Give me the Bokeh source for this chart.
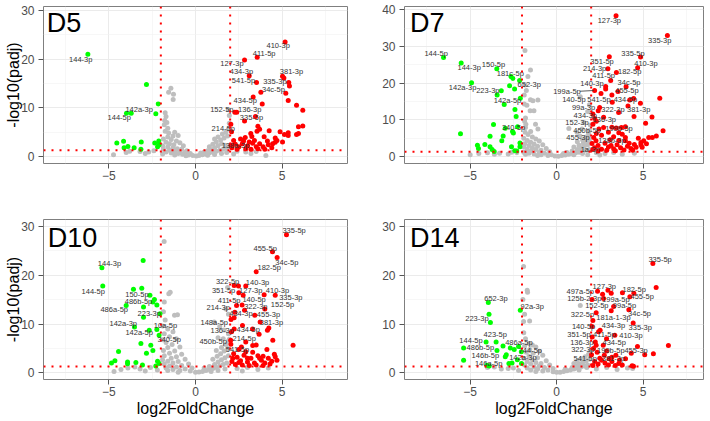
from bokeh.plotting import figure
from bokeh.layouts import column, row
from bokeh.models import Range1d, Span, FixedTicker
from bokeh.core.properties import value
from bokeh.embed import file_html
from bokeh.resources import INLINE

FONT = "Liberation Sans"
FC_CUT = 2.0
P_CUT = 1.30103
RED = "#FF0000"
GREEN = "#00FF00"
GREY = "#BEBEBE"

x_ticks = [-5, 0, 5]
x_minor = [-7.5, -2.5, 2.5, 7.5]
y_ticks_30 = [0, 10, 20, 30]
y_minor_30 = [5, 15, 25]
y_ticks_40 = [0, 10, 20, 30, 40]
y_minor_40 = [5, 15, 25, 35]

# ---------------- D5 ----------------
d5_points = [
    (-6.21, 21.0), (-2.83, 14.8), (-2.15, 10.8), (-3.98, 8.9), (-3.71, 8.9), (-2.29, 8.8),
    (-4.54, 2.75), (-4.15, 3.15), (-4.12, 1.8), (-3.9, 2.05), (-3.54, 1.8), (-3.13, 2.95),
    (-2.35, 2.75), (-2.12, 3.2), (-2.19, 2.0), (-2.1, 2.4), (-3.15, 1.5),
    (-4.73, 0.35), (-3.8, 1.1), (-3.2, 1.0), (-2.7, 0.9), (-2.4, 1.2), (-2.9, 0.6), (-4.0, 0.8),
    (-1.42, 14.0), (-1.27, 12.8), (-1.29, 11.7), (-1.55, 13.2),
    (-1.75, 9.0), (-1.7, 8.2), (-1.78, 7.4), (-1.65, 7.0), (-1.8, 6.5), (-1.6, 5.8), (-1.75, 5.2),
    (-1.55, 4.8), (-1.3, 4.2), (-1.2, 5.0), (-1.0, 4.3), (-1.6, 4.0), (-1.85, 3.6), (-1.4, 3.5),
    (-1.1, 3.2), (-0.9, 2.8), (-1.7, 2.9), (-1.5, 2.6), (-1.25, 2.4), (-0.7, 2.2), (-1.9, 2.2),
    (-1.6, 2.0), (-1.3, 1.8), (-1.05, 1.6), (-0.8, 1.5), (-0.5, 1.2), (-1.85, 1.5), (-1.5, 1.3),
    (-1.2, 1.1), (-0.9, 1.0), (-0.6, 0.8), (-0.3, 0.6), (-1.7, 0.9), (-1.4, 0.7), (-1.0, 0.6),
    (-0.75, 0.45), (-0.4, 0.3), (-0.15, 0.2), (-1.9, 0.5), (-1.2, 0.3), (-0.55, 0.15), (0.05, 0.1),
    (0.2, 0.2), (0.4, 0.35), (0.6, 0.5), (0.8, 0.7), (1.0, 0.9), (1.2, 1.1), (1.4, 1.3), (1.6, 1.5),
    (1.8, 1.7), (0.5, 0.9), (0.9, 1.4), (1.1, 1.8), (1.3, 2.2), (1.5, 2.6), (1.7, 2.3), (1.9, 2.0),
    (1.0, 2.5), (1.2, 3.0), (1.45, 3.4), (1.65, 3.8), (1.85, 4.2), (1.3, 4.0), (1.55, 4.6),
    (1.75, 5.0), (1.9, 5.6), (1.95, 6.8), (1.95, 8.4), (1.9, 9.6), (1.1, 3.6), (0.8, 2.0),
    (0.3, 0.7), (0.7, 1.2), (1.8, 0.8), (1.5, 0.6), (1.1, 0.4), (0.7, 0.25),
    (2.4, 1.1), (2.9, 0.9), (3.5, 1.0), (4.06, 0.2), (3.2, 0.6), (2.2, 0.5),
    (5.17, 23.5), (3.56, 20.4), (2.83, 19.8), (3.1, 16.6), (3.52, 15.2), (5.02, 16.5), (5.1, 16.1),
    (5.38, 15.2), (5.42, 14.5), (5.21, 13.0), (3.77, 13.2), (3.33, 12.2), (3.85, 10.8), (5.35, 11.5),
    (5.83, 10.5), (6.19, 9.5), (2.27, 9.06), (2.38, 9.06), (3.46, 8.2), (2.83, 7.3), (2.04, 6.6),
    (2.08, 5.1), (3.6, 6.2), (3.7, 5.6), (3.55, 5.2), (4.25, 5.3), (4.88, 5.1), (5.94, 6.1),
    (6.19, 6.25), (5.94, 4.7), (5.83, 4.5), (5.35, 4.9), (5.35, 4.3), (5.13, 4.5), (4.6, 3.8),
    (4.7, 3.3), (4.6, 2.9), (5.02, 3.0), (3.19, 4.7), (3.25, 4.1), (2.87, 3.9), (2.77, 3.2),
    (3.96, 4.05), (4.15, 3.2), (2.3, 2.5), (2.5, 2.0), (2.7, 2.6), (3.0, 2.2), (3.3, 2.7),
    (3.5, 2.0), (3.7, 2.6), (3.9, 2.0), (4.2, 2.4), (4.4, 1.8), (2.1, 1.8), (2.4, 1.5), (2.9, 1.6),
    (3.2, 1.5), (3.6, 1.6), (4.0, 1.5), (2.2, 3.3), (2.6, 3.6), (3.4, 3.3), (4.45, 2.6), (2.05, 2.3),
    (3.1, 3.0),
]
d5_labels = [
    ("410-3p", 4.77, 22.7), ("411-5p", 3.96, 21.1), ("144-3p", -6.62, 20.0), ("127-3p", 2.1, 19.0),
    ("434-3p", 2.65, 17.4), ("381-3p", 5.54, 17.4), ("541-5p", 2.77, 15.6), ("335-3p", 4.58, 15.4),
    ("34c-5p", 4.5, 13.8), ("434-5p", 2.87, 11.5), ("142a-3p", -3.25, 9.75), ("152-5p", 1.52, 9.75),
    ("136-3p", 3.13, 9.75), ("144-5p", -4.4, 8.0), ("335-5p", 3.23, 8.0), ("214-5p", 1.6, 5.7),
    ("138a-3p", 2.31, 2.2),
]

# ---------------- D7 ----------------
d7_points = [
    (-6.54, 27.0), (-5.52, 25.5), (-3.46, 23.9), (-2.64, 21.8), (-2.53, 21.3), (-2.14, 20.7),
    (-4.92, 20.1), (-2.72, 19.3), (-3.2, 17.9), (-3.44, 16.8), (-2.43, 18.4), (-2.1, 15.9),
    (-3.03, 14.2), (-2.41, 12.8), (-2.34, 10.9), (-3.65, 8.75), (-2.26, 8.1), (-2.97, 7.7),
    (-2.55, 6.8), (-2.5, 6.4), (-5.56, 6.2), (-3.85, 5.5), (-3.09, 5.6), (-3.17, 4.3), (-4.15, 3.3),
    (-4.58, 3.1), (-4.52, 2.2), (-3.85, 2.7), (-3.73, 1.9), (-3.61, 1.4), (-2.61, 2.7), (-2.12, 3.7),
    (-2.12, 2.7), (-2.3, 1.5), (-2.42, 1.55),
    (-5.0, 0.5), (-4.0, 1.0), (-3.3, 0.9), (-2.8, 0.7), (-2.3, 1.0), (-3.6, 0.6), (-4.5, 0.8), (-2.6, 1.2),
    (-1.83, 28.9), (-1.51, 23.6), (-1.66, 21.8), (-1.83, 19.5), (-1.75, 18.0), (-1.87, 16.8),
    (-1.51, 15.5), (-1.37, 15.2), (-1.08, 15.4), (-1.87, 14.3), (-1.72, 14.0), (-1.53, 12.5),
    (-1.31, 12.5), (-1.8, 10.5), (-1.85, 9.6), (-1.78, 8.8), (-1.22, 8.8), (-1.08, 7.5), (-1.8, 7.9),
    (-1.82, 6.6), (-1.5, 6.8), (-1.65, 6.0), (-1.4, 5.3), (-1.9, 5.0), (-1.2, 4.8), (-1.7, 4.4),
    (-1.0, 4.2), (-1.5, 3.9), (-1.85, 3.5), (-1.3, 3.4), (-0.8, 3.2), (-1.6, 3.0), (-1.1, 2.8),
    (-1.9, 2.6), (-1.4, 2.4), (-0.6, 2.2), (-1.7, 2.0), (-1.2, 1.9), (-0.9, 1.7), (-1.5, 1.5),
    (-0.4, 1.3), (-1.9, 1.2), (-1.0, 1.1), (-0.7, 0.9), (-1.6, 0.9), (-1.3, 0.7), (-0.3, 0.5),
    (-0.9, 0.5), (-1.8, 0.6), (-0.5, 0.3), (-0.1, 0.15), (-1.1, 0.3),
    (0.1, 0.1), (0.3, 0.25), (0.5, 0.4), (0.7, 0.6), (0.9, 0.8), (1.1, 1.0), (1.3, 1.2), (1.5, 1.4),
    (1.7, 1.7), (1.9, 1.9), (0.6, 1.1), (0.9, 1.5), (1.2, 1.9), (1.4, 2.4), (1.6, 2.8), (1.8, 3.2),
    (1.95, 3.8), (1.0, 2.6), (1.3, 3.1), (1.55, 3.6), (1.75, 4.3), (1.9, 4.9), (1.2, 4.0), (1.5, 4.6),
    (1.7, 5.3), (0.71, 7.65), (1.18, 6.6), (1.47, 7.5), (1.58, 9.3), (1.35, 5.6), (1.85, 6.2),
    (1.9, 7.1), (1.95, 8.6), (1.37, 16.3), (1.9, 14.1), (1.8, 12.3), (0.4, 0.8), (1.0, 0.5),
    (1.5, 0.8), (1.8, 0.5),
    (2.3, 1.0), (2.8, 0.8), (3.3, 1.1), (3.8, 0.6), (4.5, 0.9), (2.5, 0.4),
    (3.44, 38.4), (6.41, 33.0), (4.86, 27.1), (3.05, 27.2), (4.69, 24.2), (2.97, 23.9), (3.46, 22.9),
    (3.13, 20.7), (2.84, 19.1), (2.84, 18.4), (4.02, 19.0), (2.2, 18.0), (3.55, 17.7), (2.57, 17.2),
    (3.2, 16.8), (5.97, 15.9), (4.23, 15.4), (4.46, 15.8), (3.22, 14.8), (4.85, 14.5), (4.13, 13.8),
    (2.49, 13.4), (2.41, 12.5), (3.59, 12.0), (2.1, 11.6), (5.52, 10.8), (4.48, 10.9), (2.2, 10.4),
    (2.3, 9.6), (2.72, 10.7), (2.1, 8.8), (5.15, 9.1), (3.2, 8.0), (3.45, 7.8), (3.75, 7.9),
    (3.98, 8.1), (2.72, 7.9), (2.45, 7.5), (3.6, 6.5), (3.8, 6.1), (6.16, 7.0), (5.77, 5.6),
    (5.54, 5.2), (5.33, 5.2), (5.04, 4.3), (4.73, 5.0), (4.88, 3.8), (4.88, 3.2), (3.98, 5.2),
    (3.98, 4.3), (2.28, 4.3), (2.05, 3.55), (2.2, 2.4), (2.4, 3.0), (2.6, 2.0), (2.8, 3.6),
    (3.0, 2.6), (3.1, 4.6), (3.3, 2.1), (3.5, 3.2), (3.7, 2.4), (3.9, 1.8), (4.1, 2.8), (4.3, 2.2),
    (4.5, 3.3), (4.6, 2.5), (4.2, 3.6), (3.4, 1.6), (2.9, 1.7), (2.4, 1.5), (2.1, 2.0), (5.2, 3.5),
    (4.95, 2.5), (3.6, 4.4), (2.6, 5.8), (3.0, 6.6), (2.3, 6.3), (2.15, 5.2), (3.3, 5.4), (4.4, 1.7),
    (3.15, 3.0),
]
d7_labels = [
    ("127-3p", 3.05, 37.1), ("335-3p", 5.97, 31.7), ("144-5p", -6.97, 28.0), ("335-5p", 4.42, 28.0),
    ("351-5p", 2.63, 26.0), ("410-3p", 5.17, 25.4), ("144-3p", -5.06, 24.3), ("150-5p", -3.65, 25.0),
    ("214-3p", 2.2, 23.9), ("182-5p", 4.23, 23.1), ("181c-5p", -2.68, 22.5), ("411-5p", 2.72, 22.0),
    ("140-3p", 2.05, 20.0), ("652-3p", -1.58, 19.6), ("34c-5p", 4.19, 20.1), ("142a-3p", -5.44, 18.9),
    ("199a-5p", 0.6, 17.8), ("223-3p", -3.98, 17.9), ("455-5p", 4.07, 17.9), ("140-5p", 1.0, 15.6),
    ("541-5p", 2.45, 15.6), ("434-5p", 3.98, 15.6), ("142a-5p", -2.84, 15.4), ("99a-3p", 1.56, 13.4),
    ("322-3p", 3.26, 12.9), ("381-3p", 4.75, 12.7), ("434-3p", 1.66, 11.3), ("152-3p", 1.18, 9.3),
    ("136-3p", 2.76, 10.0), ("340-5p", -2.49, 7.8), ("199b-5p", 3.61, 7.7), ("450b-5p", 1.76, 7.2),
    ("455-3p", 1.24, 5.2), ("138b-3p", 3.2, 4.5), ("1a-3p", 1.95, 1.8),
]

# ---------------- D10 ----------------
d10_points = [
    (-3.02, 23.0), (-5.4, 21.5), (-5.35, 17.8), (-3.1, 17.3), (-3.58, 17.1), (-2.63, 15.9),
    (-2.37, 15.0), (-2.46, 14.5), (-2.23, 13.9), (-3.0, 13.5), (-4.0, 13.8), (-3.0, 11.4),
    (-3.52, 9.4), (-2.67, 8.7), (-2.23, 8.9), (-2.1, 7.7), (-3.15, 6.0), (-2.58, 5.65), (-2.46, 4.6),
    (-2.83, 4.0), (-4.44, 4.35), (-4.65, 2.5), (-4.85, 2.0), (-3.92, 2.2), (-3.92, 1.85),
    (-3.44, 2.1), (-3.06, 1.6), (-2.19, 2.4), (-2.1, 1.9), (-2.29, 1.4), (-2.05, 12.1),
    (-4.7, 0.3), (-3.9, 1.0), (-3.2, 0.8), (-2.6, 1.1), (-2.2, 0.6), (-4.3, 0.7), (-3.5, 1.2), (-2.9, 0.4),
    (-1.81, 26.9), (-1.46, 16.5), (-1.54, 16.2), (-1.21, 11.8), (-1.04, 11.9), (-1.8, 14.5),
    (-1.85, 12.5), (-1.75, 10.8), (-1.9, 9.6), (-1.6, 9.0), (-1.3, 8.4), (-1.8, 8.0), (-1.5, 7.4),
    (-1.1, 7.0), (-1.9, 6.8), (-1.7, 6.2), (-1.35, 5.8), (-0.9, 5.3), (-1.6, 5.2), (-1.85, 4.6),
    (-1.2, 4.5), (-1.5, 4.0), (-0.8, 3.8), (-1.8, 3.5), (-1.1, 3.3), (-1.4, 3.0), (-0.6, 2.8),
    (-1.9, 2.7), (-1.6, 2.4), (-1.0, 2.3), (-1.3, 2.0), (-0.4, 1.8), (-1.8, 1.8), (-0.8, 1.5),
    (-1.5, 1.4), (-1.1, 1.2), (-0.2, 1.0), (-1.7, 1.0), (-0.6, 0.8), (-1.3, 0.7), (-0.9, 0.5),
    (-0.3, 0.4), (-1.6, 0.5), (0.0, 0.1), (-1.0, 0.15),
    (0.2, 0.2), (0.4, 0.3), (0.6, 0.5), (0.8, 0.7), (1.0, 0.9), (1.2, 1.1), (1.4, 1.4), (1.6, 1.7),
    (1.8, 2.0), (0.5, 1.0), (0.8, 1.3), (1.1, 1.7), (1.3, 2.2), (1.5, 2.7), (1.7, 3.1), (1.9, 3.5),
    (1.0, 2.8), (1.25, 3.4), (1.45, 3.9), (1.65, 4.5), (1.85, 5.0), (1.2, 4.6), (1.5, 5.2),
    (1.75, 5.8), (1.9, 6.5), (1.08, 10.4), (1.4, 9.5), (1.65, 8.8), (1.9, 8.0), (1.3, 7.2),
    (1.6, 7.0), (1.75, 13.1), (1.9, 12.0), (1.85, 17.5), (1.95, 6.9), (1.3, 0.5), (1.7, 0.8), (0.9, 0.3),
    (2.4, 0.9), (3.0, 1.1), (3.6, 0.7), (4.2, 1.0), (2.7, 0.4),
    (5.25, 28.3), (4.44, 24.8), (4.71, 23.6), (3.5, 20.7), (2.23, 17.9), (2.48, 17.8), (2.9, 17.8),
    (2.5, 16.4), (2.75, 15.9), (3.96, 16.0), (4.6, 15.9), (2.37, 13.8), (2.69, 13.9), (4.0, 13.1),
    (2.83, 12.8), (2.27, 12.4), (3.42, 11.8), (2.05, 10.9), (2.23, 11.3), (3.73, 10.4), (4.23, 9.2),
    (4.15, 8.7), (3.67, 7.9), (3.29, 9.0), (2.71, 9.7), (2.23, 9.0), (2.08, 8.4), (2.03, 6.7),
    (4.46, 6.7), (5.63, 5.65), (2.9, 6.3), (3.3, 5.6), (2.04, 5.85), (4.12, 4.8), (3.5, 5.7),
    (2.5, 4.8), (2.2, 3.9), (2.4, 3.2), (2.6, 2.5), (2.8, 3.6), (3.0, 2.2), (3.2, 3.0), (3.4, 2.0),
    (3.6, 3.5), (3.8, 2.6), (4.0, 2.0), (4.2, 3.0), (4.4, 2.4), (4.6, 3.3), (4.7, 2.6), (2.1, 2.3),
    (2.3, 1.7), (2.7, 1.6), (3.1, 1.5), (3.5, 1.6), (3.9, 1.5), (4.3, 1.8), (2.9, 4.3), (3.3, 4.2),
    (2.5, 2.1), (3.0, 3.0), (3.7, 3.0), (4.55, 3.8), (2.15, 3.0), (3.9, 3.4), (2.65, 5.3),
]
d10_labels = [
    ("335-5p", 5.69, 29.1), ("455-5p", 4.02, 25.5), ("34c-5p", 5.27, 22.5), ("144-3p", -4.96, 22.3),
    ("182-5p", 4.25, 21.5), ("322-5p", 1.85, 18.7), ("140-3p", 3.58, 18.6), ("144-5p", -5.9, 16.7),
    ("351-5p", 1.62, 16.9), ("127-3p", 3.19, 16.9), ("410-3p", 4.73, 16.9), ("150-5p", -3.38, 16.1),
    ("335-3p", 5.5, 15.5), ("140-5p", 3.38, 15.0), ("411-5p", 1.94, 14.8), ("486b-5p", -3.29, 14.6),
    ("152-5p", 5.02, 13.9), ("322-3p", 3.48, 13.6), ("214-3p", 1.31, 13.3), ("486a-5p", -4.69, 13.0),
    ("223-3p", -2.67, 12.2), ("434-3p", 2.62, 12.1), ("455-3p", 4.21, 11.9), ("142a-3p", -4.17, 10.2),
    ("148a-5p", 1.08, 10.4), ("381-3p", 4.38, 10.4), ("10a-5p", -1.73, 9.7), ("136-3p", 1.54, 8.7),
    ("434-5p", 3.04, 8.8), ("142a-5p", -3.25, 8.2), ("340-5p", -1.52, 6.8), ("450b-5p", 1.02, 6.5),
    ("214-5p", 2.81, 7.0), ("541-5p", 2.42, 4.8),
]

# ---------------- D14 ----------------
d14_points = [
    (-3.95, 14.4), (-3.91, 12.0), (-3.83, 10.3), (-2.1, 12.8), (-4.08, 6.3), (-3.5, 6.3),
    (-5.38, 5.1), (-3.45, 4.6), (-3.1, 5.5), (-2.68, 5.1), (-2.45, 4.8), (-2.2, 5.4), (-2.04, 4.3),
    (-2.91, 3.7), (-2.97, 3.3), (-2.27, 2.7), (-2.76, 1.9), (-2.58, 2.0), (-2.03, 1.9),
    (-5.38, 2.6), (-4.03, 1.56), (-3.9, 1.4),
    (-4.0, 1.1), (-3.2, 0.8), (-2.5, 1.0), (-2.2, 0.5), (-3.6, 1.2), (-2.8, 0.9),
    (-1.91, 21.8), (-1.7, 16.9), (-1.68, 16.5), (-1.56, 10.6), (-1.91, 10.5), (-1.95, 15.0),
    (-1.85, 12.0), (-1.9, 8.2), (-1.8, 7.0), (-1.6, 6.0), (-1.4, 5.7), (-1.85, 5.5), (-1.2, 5.3),
    (-1.55, 4.8), (-1.0, 4.4), (-1.75, 4.2), (-1.35, 4.0), (-0.8, 3.6), (-1.6, 3.4), (-1.1, 3.1),
    (-1.9, 3.0), (-1.4, 2.7), (-0.6, 2.5), (-1.7, 2.3), (-1.2, 2.1), (-0.9, 1.9), (-1.5, 1.8),
    (-0.4, 1.6), (-1.85, 1.6), (-1.0, 1.4), (-1.3, 1.2), (-0.7, 1.1), (-1.7, 1.0), (-0.2, 0.9),
    (-1.1, 0.8), (-0.5, 0.6), (-1.5, 0.6), (-0.8, 0.4), (-0.2, 0.25), (-1.2, 0.3), (0.0, 0.1),
    (0.2, 0.15), (0.4, 0.3), (0.6, 0.45), (0.8, 0.6), (1.0, 0.8), (1.2, 1.0), (1.4, 1.2), (1.6, 1.4),
    (1.8, 1.6), (0.5, 0.8), (0.9, 1.1), (1.1, 1.5), (1.3, 1.8), (1.5, 2.1), (1.7, 2.4), (1.9, 2.8),
    (1.2, 2.5), (1.45, 2.9), (1.65, 3.3), (1.85, 3.8), (1.37, 13.8), (1.95, 4.5), (1.0, 1.9),
    (1.75, 1.1), (1.3, 0.6),
    (2.3, 0.8), (2.9, 1.1), (3.5, 0.7), (4.1, 1.0), (4.4, 0.9),
    (5.57, 22.4), (5.76, 17.5), (2.37, 16.7), (2.97, 16.9), (3.16, 16.3), (2.66, 16.1), (3.81, 16.4),
    (4.47, 16.3), (4.24, 15.6), (2.05, 15.0), (2.72, 15.2), (3.3, 13.6), (3.16, 12.7), (2.29, 12.3),
    (4.18, 12.9), (2.1, 10.7), (4.43, 10.2), (2.05, 9.5), (2.52, 8.7), (2.43, 8.4), (2.06, 7.35),
    (3.37, 7.7), (2.89, 7.0), (2.24, 6.3), (2.29, 5.65), (2.7, 5.65), (4.68, 5.4), (6.47, 5.6),
    (5.6, 3.9), (5.1, 3.7), (4.32, 4.0), (2.02, 3.7), (2.14, 5.0), (2.76, 3.6), (3.43, 3.6),
    (3.64, 2.65), (3.99, 2.9), (4.37, 1.45), (4.45, 1.35), (2.2, 2.3), (2.4, 1.8), (2.6, 2.6),
    (2.8, 2.0), (3.0, 1.6), (3.2, 2.3), (3.4, 1.5), (3.6, 1.9), (3.8, 1.6), (2.1, 1.5), (2.5, 3.0),
    (3.05, 2.9), (2.35, 4.2), (3.2, 3.2), (2.9, 4.5),
]
d14_labels = [
    ("335-5p", 5.99, 23.3), ("497a-5p", 1.37, 16.7), ("127-3p", 2.76, 17.7), ("182-5p", 4.49, 17.1),
    ("125b-2-3p", 1.6, 15.2), ("199a-5p", 3.43, 15.0), ("455-5p", 4.95, 15.7), ("652-3p", -3.51, 15.2),
    ("152-5p", 2.33, 13.7), ("99a-5p", 3.93, 13.7), ("92a-3p", -1.41, 13.5), ("322-5p", 1.5, 12.0),
    ("181a-1-3p", 3.29, 11.4), ("34c-5p", 4.8, 12.1), ("223-3p", -4.61, 11.1), ("140-5p", 1.56, 9.4),
    ("434-3p", 3.29, 9.6), ("335-3p", 4.84, 9.2), ("423-5p", -3.55, 7.8), ("351-5p", 1.29, 7.8),
    ("411-5p", 2.76, 7.8), ("410-3p", 4.3, 7.7), ("144-5p", -4.95, 6.6), ("486a-5p", -2.18, 6.3),
    ("136-3p", 1.46, 6.3), ("434-5p", 3.33, 6.3), ("486b-5p", -4.41, 5.1), ("744-5p", -1.52, 4.6),
    ("322-3p", 1.52, 4.8), ("199b-5p", 3.14, 4.6), ("455-3p", 4.6, 4.6), ("146b-5p", -4.12, 3.6),
    ("142a-3p", -1.95, 3.1), ("541-5p", 1.66, 2.9), ("381-3p", 3.29, 2.9), ("146a-5p", -3.93, 1.9),
]


def make_panel(tag, pts, labels, xr, yr, yt, ymt, fw, fh, mbl, mbr, mbt, mbb,
               ylab, xlab, tag_dx, tag_dy):
    p = figure(width=mbl + fw + mbr, height=mbt + fh + mbb,
               x_range=Range1d(*xr), y_range=Range1d(*yr),
               output_backend="svg", toolbar_location=None,
               min_border_left=mbl, min_border_right=mbr,
               min_border_top=mbt, min_border_bottom=mbb)
    p.background_fill_color = "white"
    p.border_fill_color = "white"
    p.outline_line_color = "#7F7F7F"
    p.outline_line_width = 1

    xt = FixedTicker(ticks=x_ticks, minor_ticks=x_minor)
    ytk = FixedTicker(ticks=yt, minor_ticks=ymt)
    p.xaxis.ticker = xt
    p.yaxis.ticker = ytk
    p.xgrid.ticker = xt
    p.ygrid.ticker = ytk
    for g in (p.xgrid, p.ygrid):
        g.grid_line_color = "#EBEBEB"
        g.grid_line_width = 1
        g.minor_grid_line_color = "#F2F2F2"
        g.minor_grid_line_width = 0.6
    for ax in (p.xaxis, p.yaxis):
        ax.axis_line_color = None
        ax.major_tick_line_color = "#555555"
        ax.minor_tick_line_color = None
        ax.major_tick_out = 5
        ax.major_tick_in = 0
        ax.minor_tick_out = 0
        ax.minor_tick_in = 0
        ax.major_label_text_font = FONT
        ax.major_label_text_font_size = "12px"
        ax.major_label_text_color = "#4D4D4D"
        ax.axis_label_text_font = FONT
        ax.axis_label_text_font_size = "16px"
        ax.axis_label_text_font_style = "normal"
        ax.axis_label_text_color = "black"
    p.xaxis.major_label_standoff = 2
    p.yaxis.major_label_standoff = 4
    p.xaxis.axis_label_standoff = 1
    p.yaxis.axis_label_standoff = -4
    if ylab:
        p.yaxis.axis_label = "-log10(padj)"
    if xlab:
        p.xaxis.axis_label = "log2FoldChange"

    groups = {GREY: ([], []), GREEN: ([], []), RED: ([], [])}
    for x, y in pts:
        if y > P_CUT and x < -FC_CUT:
            c = GREEN
        elif y > P_CUT and x > FC_CUT:
            c = RED
        else:
            c = GREY
        groups[c][0].append(x)
        groups[c][1].append(y)
    for c in (GREY, GREEN, RED):
        p.scatter(groups[c][0], groups[c][1], size=5, fill_color=c, line_color=None)

    for loc in (-FC_CUT, FC_CUT):
        p.add_layout(Span(location=loc, dimension="height", line_color="#FF0000",
                          line_dash="2 6", line_width=2))
    p.add_layout(Span(location=P_CUT, dimension="width", line_color="#FF0000",
                      line_dash="2 6", line_width=2))

    p.text(x=[l[1] for l in labels], y=[l[2] for l in labels], text=[l[0] for l in labels],
           text_font=value(FONT), text_font_size="7.5px", text_color="#333333",
           text_align="center", text_baseline="middle")

    tx = xr[0] + tag_dx / fw * (xr[1] - xr[0])
    ty = yr[1] - tag_dy / fh * (yr[1] - yr[0])
    p.text(x=[tx], y=[ty], text=[tag], text_font=value(FONT), text_font_size="27px",
           text_color="black", text_align="left", text_baseline="middle")
    return p


# layout: top row 0..195, bottom row 195..421
p1 = make_panel("D5", d5_points, d5_labels, (-8.77, 8.77), (-1.44, 30.8), y_ticks_30, y_minor_30,
                304, 157, 43, 8, 6, 32, True, False, 3.2, 16.0)
p2 = make_panel("D7", d7_points, d7_labels, (-8.8, 8.5), (-1.9, 40.9), y_ticks_40, y_minor_40,
                299, 157, 49, 6, 6, 32, False, False, 5.6, 16.0)
p2.segment(x0=[1.35], y0=[17.8], x1=[2.15], y1=[18.0], line_color="#333333", line_width=0.8)
p3 = make_panel("D10", d10_points, d10_labels, (-8.77, 8.77), (-1.36, 31.4), y_ticks_30, y_minor_30,
                304, 160, 43, 8, 24, 42, True, True, 4.2, 18.5)
p4 = make_panel("D14", d14_points, d14_labels, (-8.8, 8.5), (-1.36, 31.4), y_ticks_30, y_minor_30,
                299, 160, 49, 6, 24, 42, False, True, 5.6, 18.8)

layout = column(row(p1, p2), row(p3, p4))
open("out.html", "w").write(file_html(layout, INLINE))
